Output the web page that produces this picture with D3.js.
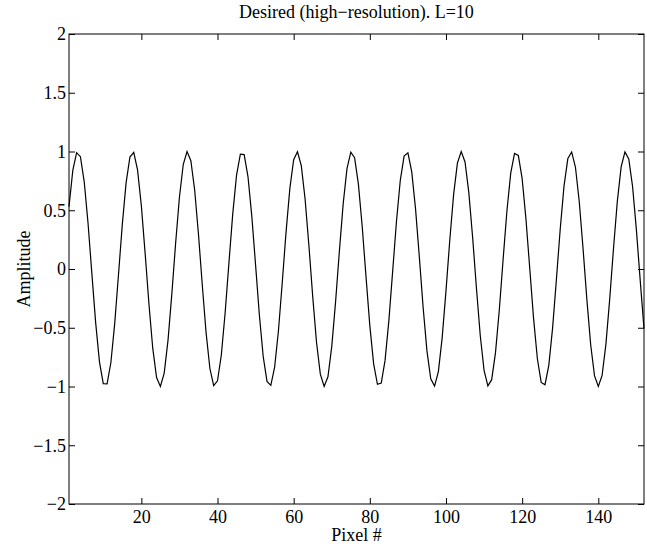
<!DOCTYPE html>
<html>
<head>
<meta charset="utf-8">
<script src="https://cdn.jsdelivr.net/npm/d3@7"></script>
<style>
  body { margin: 0; background: #fff; }
  svg text { font-family: "Liberation Serif", "Times New Roman", serif; fill: #000; }
</style>
</head>
<body>
<svg id="chart" width="647" height="544"></svg>
<script>
// amplitude, one value per pixel 1..152
const amplitude = [
  0.530, 0.839, 0.990, 0.956, 0.742, 0.389, -0.037, -0.456, -0.790, -0.975,
  -0.977, -0.796, -0.465, -0.047, 0.380, 0.735, 0.953, 0.992, 0.844, 0.538,
  0.131, -0.300, -0.676, -0.924, -0.999, -0.886, -0.607, -0.214, 0.219, 0.611,
  0.889, 0.999, 0.922, 0.672, 0.296, -0.136, -0.542, -0.847, -0.992, -0.952,
  -0.732, -0.375, 0.052, 0.469, 0.799, 0.978, 0.974, 0.787, 0.452, 0.033,
  -0.393, -0.745, -0.957, -0.990, -0.836, -0.526, -0.117, 0.314, 0.686, 0.930,
  0.998, 0.880, 0.596, 0.200, -0.233, -0.623, -0.895, -1.000, -0.917, -0.661,
  -0.282, 0.150, 0.554, 0.854, 0.994, 0.947, 0.722, 0.362, -0.066, -0.482,
  -0.807, -0.981, -0.971, -0.778, -0.439, -0.018, 0.406, 0.755, 0.961, 0.988,
  0.828, 0.514, 0.103, -0.328, -0.697, -0.935, -0.997, -0.873, -0.584, -0.186,
  0.247, 0.633, 0.901, 1.000, 0.911, 0.650, 0.268, -0.164, -0.566, -0.862,
  -0.995, -0.942, -0.712, -0.349, 0.081, 0.494, 0.816, 0.984, 0.967, 0.769,
  0.426, 0.004, -0.420, -0.764, -0.965, -0.985, -0.820, -0.501, -0.088, 0.341,
  0.707, 0.940, 0.996, 0.866, 0.572, 0.172, -0.261, -0.645, -0.908, -1.000,
  -0.905, -0.639, -0.254, 0.179, 0.578, 0.869, 0.997, 0.937, 0.702, 0.335,
  -0.095, -0.507
];
const xTicks = [20, 40, 60, 80, 100, 120, 140];
const yTicks = [-2, -1.5, -1, -0.5, 0, 0.5, 1, 1.5, 2];
const title = "Desired (high\u2212resolution). L=10";

const margin = { left: 69, right: 3, top: 34, bottom: 40 };
const W = 647, H = 544;
const svg = d3.select('#chart');
const iw = W - margin.left - margin.right;
const ih = H - margin.top - margin.bottom;

const x = d3.scaleLinear().domain([1, amplitude.length]).range([0, iw]);
const y = d3.scaleLinear().domain([-2, 2]).range([ih, 0]);

const g = svg.append('g').attr('transform', `translate(${margin.left},${margin.top})`);

const fmt = d => d < 0 ? '\u2212' + Math.abs(d) : String(d);

// axes, ticks pointing inward like matlab
function styleAxis(sel) {
  sel.select('.domain').remove();
  sel.selectAll('line').attr('stroke', '#000');
  sel.selectAll('text').style('font-size', '18px');
}

g.append('g').attr('transform', `translate(0,${ih})`)
  .call(d3.axisBottom(x).tickValues(xTicks).tickSize(-6).tickPadding(6).tickFormat(fmt))
  .call(styleAxis);
g.append('g')
  .call(d3.axisTop(x).tickValues(xTicks).tickSize(-6).tickFormat(''))
  .call(styleAxis);
g.append('g')
  .call(d3.axisLeft(y).tickValues(yTicks).tickSize(-6).tickPadding(3).tickFormat(fmt))
  .call(styleAxis);
g.append('g').attr('transform', `translate(${iw},0)`)
  .call(d3.axisRight(y).tickValues(yTicks).tickSize(-6).tickFormat(''))
  .call(styleAxis);

g.append('rect')
  .attr('width', iw).attr('height', ih)
  .attr('fill', 'none').attr('stroke', '#000').attr('stroke-width', 1);

// signal
const line = d3.line().x((d, i) => x(i + 1)).y(d => y(d));
g.append('path')
  .datum(amplitude)
  .attr('d', line)
  .attr('fill', 'none')
  .attr('stroke', '#000')
  .attr('stroke-width', 1.2);

svg.append('text')
  .attr('x', margin.left + iw / 2).attr('y', 18)
  .attr('text-anchor', 'middle').style('font-size', '18px')
  .text(title);

svg.append('text')
  .attr('x', margin.left + iw / 2).attr('y', 541)
  .attr('text-anchor', 'middle').style('font-size', '18px')
  .text('Pixel #');

svg.append('text')
  .attr('transform', `translate(30,${margin.top + ih / 2}) rotate(-90)`)
  .attr('text-anchor', 'middle').style('font-size', '18px')
  .text('Amplitude');
</script>
</body>
</html>
